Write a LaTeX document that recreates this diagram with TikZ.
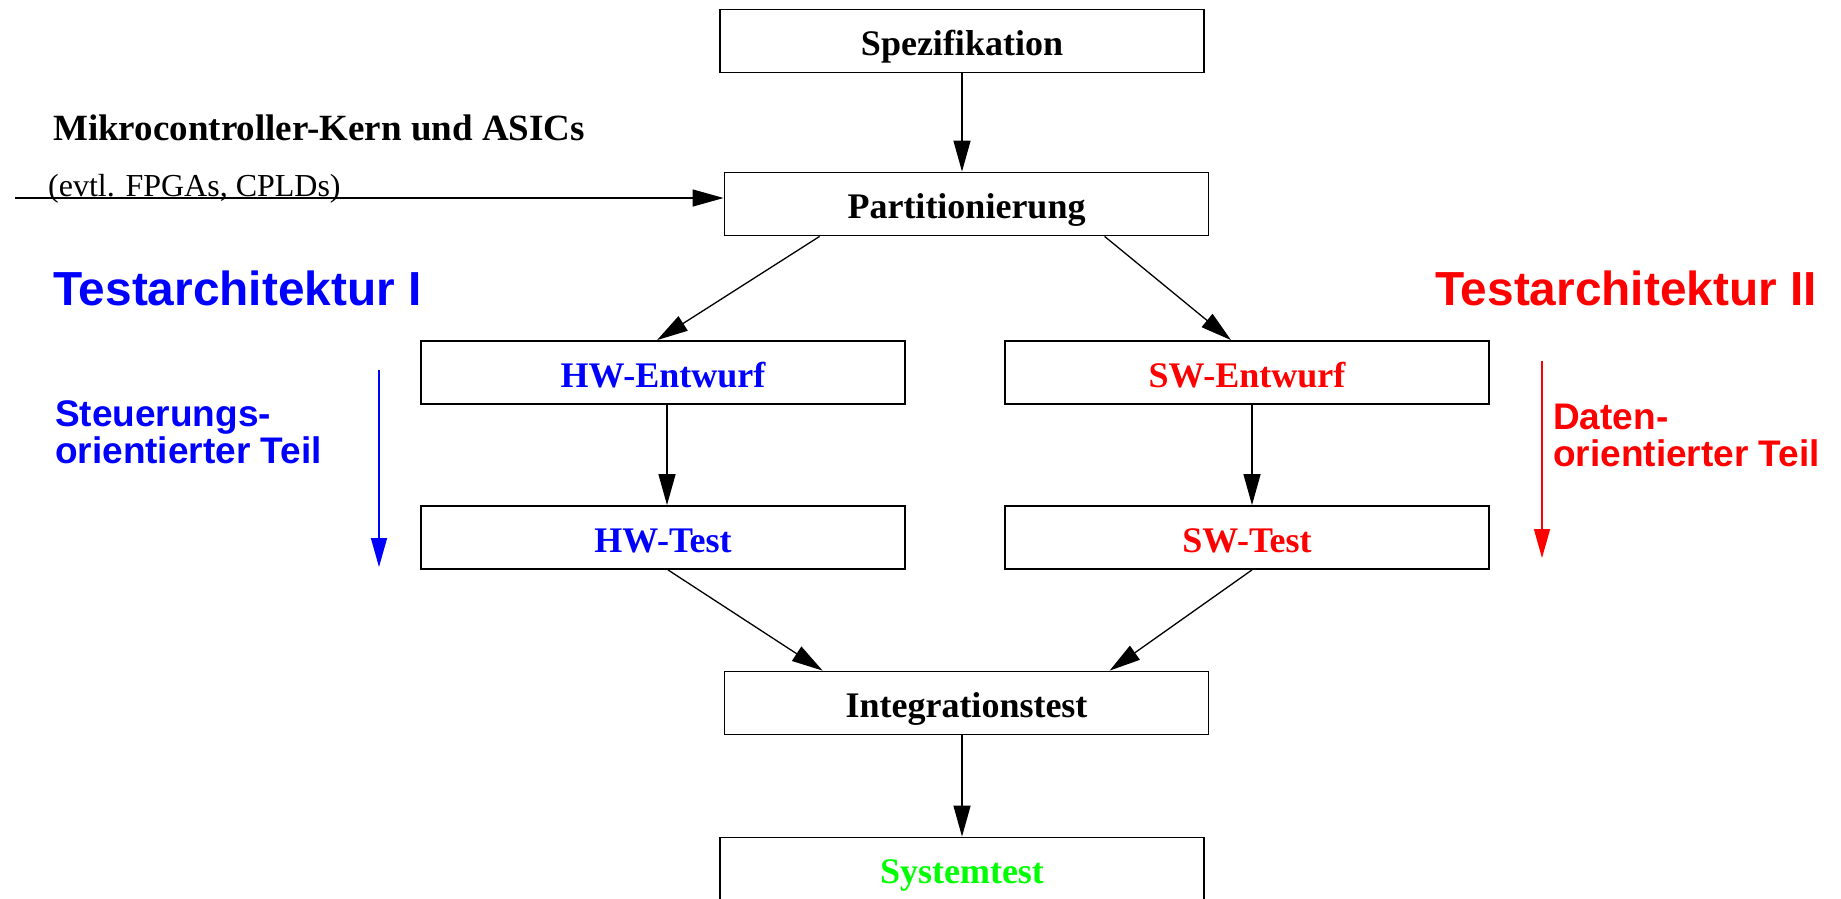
\documentclass[tikz,border=0pt]{standalone}
\usepackage{fontspec}
\setmainfont{Liberation Serif}
\newfontfamily\labelsans{Liberation Sans}
\usetikzlibrary{arrows.meta,calc}
\definecolor{hwblue}{RGB}{0,0,255}
\definecolor{swred}{RGB}{255,0,0}
\definecolor{sysgreen}{RGB}{0,255,0}
\begin{document}
\begin{tikzpicture}[x=1pt,y=-1pt,
  stage/.style={draw=black, line width=1.8pt, minimum width=484pt, minimum height=63pt,
    inner sep=0pt, font=\fontsize{36}{36}\selectfont\bfseries, text height=29pt, text depth=0pt},
  flow/.style={line width=1.3pt, -{Triangle[length=31pt,width=17pt]}},
  trend/.style={line width=1.5pt, -{Triangle[length=29pt,width=16pt]}},
  heading/.style={font=\labelsans\bfseries\fontsize{47.8}{47.8}\selectfont, anchor=base west, inner sep=0pt},
  note/.style={font=\labelsans\bfseries\fontsize{37}{37}\selectfont, anchor=base west, inner sep=0pt},
  plain/.style={anchor=base west, inner sep=0pt},
]
\useasboundingbox (0,0) rectangle (1841,898);

% design flow stages
\node[stage] (spez)  at (962,41)    {Spezifikation};
\node[stage] (part)  at (966.5,204) {Partitionierung};
\node[stage, text=hwblue] (hwe) at (663,372.5)  {HW-Entwurf};
\node[stage, text=swred]  (swe) at (1247,372.5) {SW-Entwurf};
\node[stage, text=hwblue] (hwt) at (663,537.5)  {HW-Test};
\node[stage, text=swred]  (swt) at (1247,537.5) {SW-Test};
\node[stage] (integ) at (966.5,703) {Integrationstest};
\node[stage, text=sysgreen] (sys) at (962,869) {Systemtest};

% hardware input
\node[plain, font=\fontsize{37}{37}\selectfont\bfseries] (mk) at (53,140) {Mikrocontroller-Kern und ASICs};
\node[plain, font=\fontsize{32}{32}\selectfont] (evtl) at (48,196) {(evtl. FPGAs, CPLDs)};
\coordinate (src) at (15,198);

% side labels
\node[heading, text=hwblue] (ta1) at (53,305) {Testarchitektur I};
\node[heading, text=swred]  (ta2) at (1435,305) {Testarchitektur II};
\node[note, text=hwblue] (st1) at (55,426) {Steuerungs-};
\node[note, text=hwblue] (st2) at (55,463) {orientierter Teil};
\node[note, text=swred]  (dt1) at (1553,429) {Daten-};
\node[note, text=swred]  (dt2) at (1553,466) {orientierter Teil};

% direction arrows
\coordinate (bA) at (379,370);
\coordinate (bB) at (379,567);
\coordinate (rA) at (1542,361);
\coordinate (rB) at (1542,558);
\draw[trend, draw=hwblue, fill=hwblue] (bA) -- (bB);
\draw[trend, draw=swred, fill=swred] (rA) -- (rB);

% connectors
\draw[flow] (spez.south) -- (spez.south |- part.north);
\draw[flow] (src) -- (part.west |- src);
\draw[flow] ($(part.south west)+(96,0)$) -- ($(hwe.north)+(-6,0)$);
\draw[flow] ($(part.south west)+(381,0)$) -- ($(swe.north)+(-16,0)$);
\draw[flow] ($(hwe.south)+(4,0)$) -- ($(hwt.north)+(4,0)$);
\draw[flow] ($(swe.south)+(5,0)$) -- ($(swt.north)+(5,0)$);
\draw[flow] ($(hwt.south)+(5,0)$) -- ($(integ.north west)+(99,0)$);
\draw[flow] ($(swt.south)+(5,0)$) -- ($(integ.north west)+(386,0)$);
\draw[flow] (sys.north |- integ.south) -- (sys.north);
\end{tikzpicture}
\end{document}
